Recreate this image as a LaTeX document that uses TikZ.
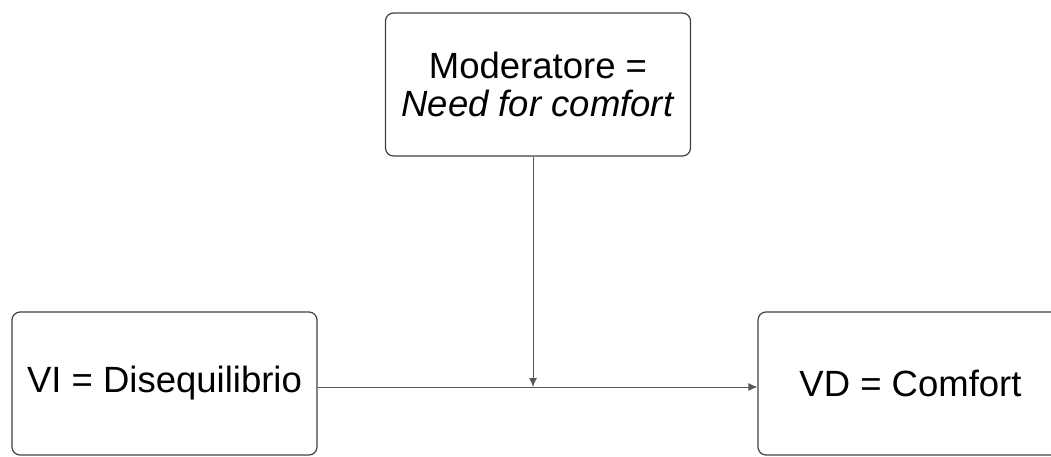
\documentclass[tikz,border=0pt]{standalone}
\usepackage{fontspec}
\setmainfont{Liberation Sans}
\usetikzlibrary{arrows.meta}
\begin{document}
\begin{tikzpicture}[x=1pt,y=-1pt]
	\tikzset{
		varbox/.style={draw=black!75, line width=1.2pt, rounded corners=8pt,
			minimum width=305pt, minimum height=143pt, inner sep=0pt,
			align=center, font=\fontsize{36.5}{38}\selectfont},
		link/.style={draw=black!65, line width=0.9pt, -{Latex[length=9pt,width=8pt]}}
	}
	\useasboundingbox (0,0) rectangle (1051,457);
	
	% Variables
	\node[varbox] (mod) at (538,84.5) {Moderatore =\\\textit{Need for comfort}};
	\node[varbox] (vi) at (164.5,383.5) {VI = Disequilibrio};
	\node[varbox] (vd) at (910.5,383.5) {VD = Comfort};
	
	% End points of the main path and of the moderator line
	\coordinate (viout) at ([yshift=-3.5pt]vi.east);
	\coordinate (vdin) at ([yshift=-3.5pt]vd.west);
	\coordinate (modfoot) at ([xshift=-5pt]mod.south);
	\coordinate (meet) at (modfoot |- viout);
	
	% Main effect
	\draw[link] (viout) -- (vdin);
	
	% Moderation
	\draw[link] (modfoot) -- (meet);
	
\end{tikzpicture}
\end{document}
